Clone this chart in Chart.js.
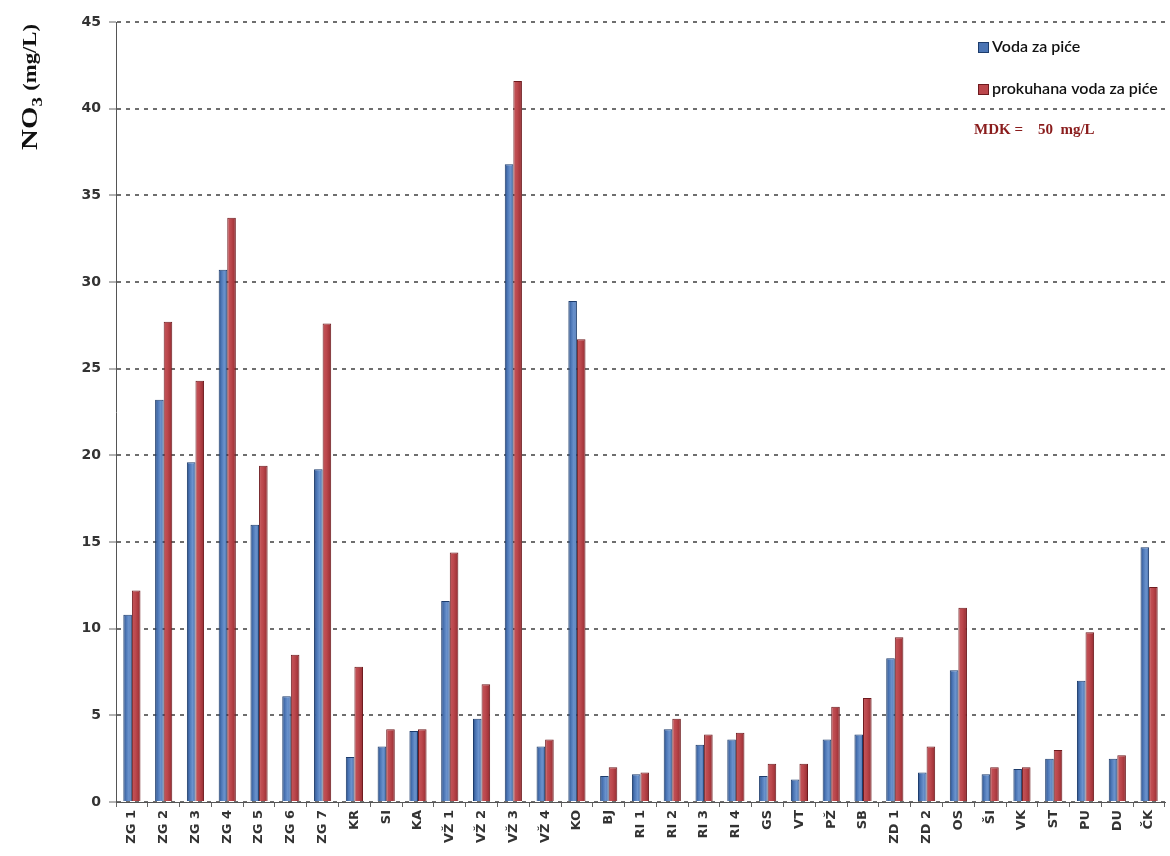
<!DOCTYPE html>
<html>
<head>
<meta charset="utf-8">
<script src="https://cdn.jsdelivr.net/npm/chart.js@4"></script>
<style>
  html, body { margin: 0; padding: 0; background: #fff; }
  #wrap { width: 1170px; height: 856px; position: relative; }
</style>
</head>
<body>
<div id="wrap"><canvas id="c"></canvas></div>
<script>
const categories = ["ZG 1","ZG 2","ZG 3","ZG 4","ZG 5","ZG 6","ZG 7","KR","SI","KA","VŽ 1","VŽ 2","VŽ 3","VŽ 4","KO","BJ","RI 1","RI 2","RI 3","RI 4","GS","VT","PŽ","SB","ZD 1","ZD 2","OS","ŠI","VK","ST","PU","DU","ČK"];
const vodaZaPice = [10.8,23.2,19.6,30.7,16.0,6.1,19.2,2.6,3.2,4.1,11.6,4.8,36.8,3.2,28.9,1.5,1.6,4.2,3.3,3.6,1.5,1.3,3.6,3.9,8.3,1.7,7.6,1.6,1.9,2.5,7.0,2.5,14.7];
const prokuhanaVoda = [12.2,27.7,24.3,33.7,19.4,8.5,27.6,7.8,4.2,4.2,14.4,6.8,41.6,3.6,26.7,2.0,1.7,4.8,3.9,4.0,2.2,2.2,5.5,6.0,9.5,3.2,11.2,2.0,2.0,3.0,9.8,2.7,12.4];
const seriesLabels = ["Voda za piće", "prokuhana voda za piće"];
const yMin = 0, yMax = 45, yStep = 5;
const mdkText = "MDK =    50  mg/L";

const baseColors = ["#4a74b4", "#bb464b"];
const edgeColors = ["#1d3c6c", "#6e1a1e"];
const gradStops = [
  [[0, "#2a4c82"], [0.3, "#4a74b4"], [0.65, "#6b93cd"], [1, "#4a72b0"]],
  [[0, "#c4575c"], [0.45, "#bb474c"], [0.8, "#a4363b"], [1, "#7e2226"]]
];

const barShading = {
  id: "barShading",
  beforeDatasetsDraw(chart) {
    const ctx = chart.ctx;
    chart.data.datasets.forEach((ds, di) => {
      const meta = chart.getDatasetMeta(di);
      meta.data.forEach(el => {
        const p = el.getProps(["x", "width"], true);
        const g = ctx.createLinearGradient(p.x - p.width / 2, 0, p.x + p.width / 2, 0);
        gradStops[di].forEach(s => g.addColorStop(s[0], s[1]));
        try { el.options.backgroundColor = g; } catch (e) {}
      });
    });
  }
};

const overlay = {
  id: "overlay",
  afterDraw(chart) {
    const ctx = chart.ctx;
    // Y title: NO3 (mg/L)
    ctx.save();
    ctx.translate(31, 150);
    ctx.rotate(-Math.PI / 2);
    ctx.scale(1.26, 1);
    ctx.fillStyle = "#111";
    ctx.textBaseline = "middle";
    ctx.textAlign = "left";
    let x = 0;
    ctx.font = "bold 23px 'Liberation Serif'";
    ctx.fillText("NO", x, 0);
    x += ctx.measureText("NO").width;
    ctx.font = "bold 15px 'Liberation Serif'";
    ctx.fillText("3", x, 7);
    x += ctx.measureText("3").width + 5;
    ctx.font = "bold 18px 'Liberation Serif'";
    ctx.fillText("(mg/L)", x, 0);
    ctx.restore();

    // Legend
    ctx.save();
    const items = chart.data.datasets;
    const lx = 978, ly = [47, 89];
    items.forEach((ds, i) => {
      ctx.fillStyle = baseColors[i];
      ctx.strokeStyle = edgeColors[i];
      ctx.lineWidth = 1;
      ctx.fillRect(lx, ly[i] - 5, 11, 11);
      ctx.strokeRect(lx + 0.5, ly[i] - 4.5, 10, 10);
      ctx.fillStyle = "#111";
      ctx.font = "600 16px Lato";
      ctx.textBaseline = "middle";
      ctx.textAlign = "left";
      ctx.fillText(ds.label, lx + 14, ly[i]);
    });
    // MDK note
    ctx.fillStyle = "#8a1c1c";
    ctx.font = "bold 15px 'Liberation Serif'";
    ctx.fillText(mdkText, 974, 130);
    ctx.restore();
  }
};

new Chart(document.getElementById("c"), {
  type: "bar",
  data: {
    labels: categories,
    datasets: [
      { label: seriesLabels[0], data: vodaZaPice, backgroundColor: () => baseColors[0], borderColor: edgeColors[0], borderWidth: 1 },
      { label: seriesLabels[1], data: prokuhanaVoda, backgroundColor: () => baseColors[1], borderColor: edgeColors[1], borderWidth: 1 }
    ]
  },
  options: {
    responsive: true,
    maintainAspectRatio: false,
    animation: false,
    datasets: { bar: { categoryPercentage: 0.54, barPercentage: 1.0 } },
    layout: { padding: { top: 22, right: 5, left: 0, bottom: 0 } },
    plugins: { legend: { display: false }, tooltip: { enabled: false } },
    scales: {
      x: {
        grid: { display: true, drawOnChartArea: false, drawTicks: true, tickLength: 5, color: "#666", offset: true },
        border: { display: true, color: "#555", width: 1 },
        ticks: {
          autoSkip: false, minRotation: 90, maxRotation: 90, padding: 3,
          color: "#333", font: { family: "'DejaVu Sans'", size: 13, weight: "bold" }
        },
        afterFit(s) { s.height = 54; }
      },
      y: {
        min: yMin, max: yMax,
        grid: { color: "#6e6e6e", lineWidth: 2, tickLength: 7, tickBorderDash: [], tickColor: "#666", tickWidth: 1 },
        border: { display: true, color: "#555", width: 1, dash: [4, 5] },
        ticks: { stepSize: yStep, padding: 8, color: "#333", font: { family: "'DejaVu Sans'", size: 14, weight: "bold" } },
        afterFit(s) { s.width = 116; }
      }
    }
  },
  plugins: [barShading, overlay]
});
</script>
</body>
</html>
